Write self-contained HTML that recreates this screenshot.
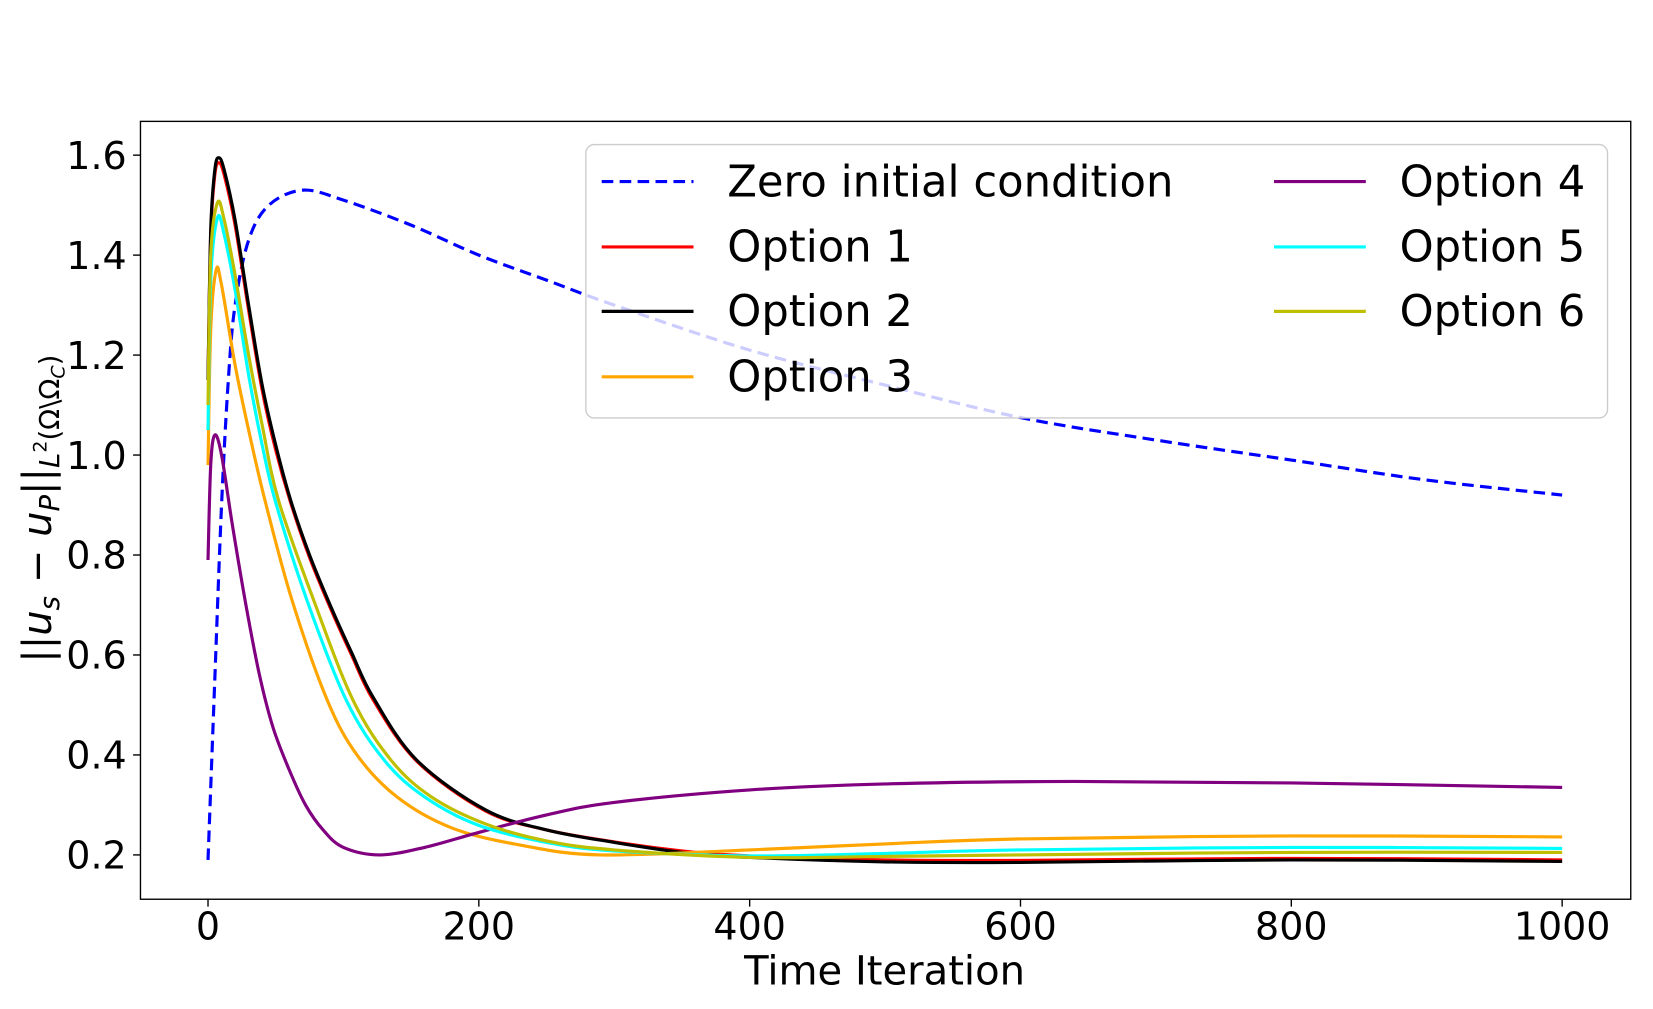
<!DOCTYPE html>
<html><head><meta charset="utf-8"><style>
html,body{margin:0;padding:0;background:#fff;}
svg{display:block;font-family:"DejaVu Sans","Liberation Sans",sans-serif;}
</style></head><body>
<svg id="chart" width="1653" height="1009" viewBox="0 0 1566 956" xmlns="http://www.w3.org/2000/svg">
<rect width="1566" height="956" fill="#fff"/>
<g id="series"></g>
<rect x="133" y="115" width="1412" height="737" fill="none" stroke="#000" stroke-width="1.3"/>
<g id="xticks"></g>
<g id="yticks"></g>
<text x="838" y="933" font-size="38" text-anchor="middle">Time Iteration</text>
<text transform="translate(48,482) rotate(-90)" font-size="38" text-anchor="middle">||<tspan font-style="italic">u</tspan><tspan font-style="italic" font-size="26" dy="8">s</tspan><tspan dy="-8"> − </tspan><tspan font-style="italic">u</tspan><tspan font-style="italic" font-size="26" dy="8">P</tspan><tspan dy="-8">||</tspan><tspan font-size="26" dy="8"><tspan font-style="italic">L</tspan><tspan font-size="18" dy="-12">2</tspan><tspan dy="12">(Ω\Ω</tspan><tspan font-style="italic" font-size="18" dy="5">C</tspan><tspan dy="-5">)</tspan></tspan></text>
<g id="legend">
<rect x="555" y="137" width="968" height="259" rx="8" fill="#fff" fill-opacity="0.8" stroke="#ccc" stroke-width="1.3"/>
</g>
</svg>
<script>
const xTicks=[0,200,400,600,800,1000];
const yTicks=[0.2,0.4,0.6,0.8,1.0,1.2,1.4,1.6];
const seriesNames=["Zero initial condition","Option 1","Option 2","Option 3","Option 4","Option 5","Option 6"];
const seriesColors=["#0000ff","#ff0000","#000000","#ffa500","#800080","#00ffff","#bfbf00"];
const xZero=[0,5,10,15,20,30,45,70,100,150,200,250,300,400,500,600,700,800,900,1000];
const yZero=[0.19,0.55,0.9,1.15,1.3,1.43,1.5,1.53,1.51,1.46,1.4,1.35,1.3,1.21,1.14,1.075,1.03,0.99,0.95,0.92];
const xOpt1=[0,2,5,8,12,20,30,40,50,61,75,91,106,122,154,205,250,300,350,400,500,600,800,1000];
const yOpt1=[1.15,1.44,1.56,1.585,1.56,1.46,1.29,1.13,1.01,0.905,0.795,0.69,0.6,0.51,0.388,0.288,0.25,0.226,0.208,0.198,0.19,0.189,0.193,0.19];
const xOpt2=[0,2,5,8,12,20,30,40,50,61,75,91,106,122,154,205,250,300,350,400,500,600,800,1000];
const yOpt2=[1.15,1.45,1.57,1.595,1.57,1.47,1.3,1.14,1.02,0.91,0.8,0.695,0.605,0.515,0.39,0.29,0.25,0.225,0.205,0.195,0.186,0.185,0.19,0.187];
const xOpt3=[0,2,6,10,20,30,42,62,88,110,140,180,230,290,400,500,600,800,1000];
const yOpt3=[0.98,1.25,1.37,1.34,1.18,1.05,0.91,0.71,0.51,0.4,0.315,0.254,0.22,0.2,0.21,0.222,0.232,0.238,0.236];
const xOpt4=[0,2,5,10,18,28,38,48,60,72,85,100,127,160,200,250,300,400,500,640,800,1000];
const yOpt4=[0.79,0.98,1.04,1.0,0.86,0.7,0.56,0.455,0.37,0.3,0.25,0.215,0.2,0.215,0.245,0.28,0.305,0.33,0.342,0.347,0.344,0.335];
const xOpt5=[0,2,7,12,20,30,40,50,73,102,130,160,200,250,300,400,500,600,800,1000];
const yOpt5=[1.05,1.35,1.475,1.44,1.33,1.16,1.02,0.905,0.71,0.51,0.39,0.316,0.259,0.225,0.208,0.198,0.203,0.21,0.215,0.213];
const xOpt6=[0,2,7,12,20,30,40,52,78,107,135,165,205,250,300,400,500,600,800,1000];
const yOpt6=[1.1,1.4,1.505,1.47,1.36,1.2,1.06,0.91,0.71,0.51,0.39,0.316,0.262,0.228,0.21,0.195,0.197,0.2,0.205,0.205];
const allX=[xZero,xOpt1,xOpt2,xOpt3,xOpt4,xOpt5,xOpt6];
const allY=[yZero,yOpt1,yOpt2,yOpt3,yOpt4,yOpt5,yOpt6];

const NS="http://www.w3.org/2000/svg";
const sx=v=>197+v*(1480-197)/1000;
const sy=v=>810-(v-0.2)*(810-147)/1.4;
function mk(tag,attrs,parent){const e=document.createElementNS(NS,tag);for(const k in attrs)e.setAttribute(k,attrs[k]);parent.appendChild(e);return e;}
function pathFor(xs,ys){
  const p=xs.map((x,i)=>[sx(x),sy(ys[i])]);
  let d="M"+p[0][0]+","+p[0][1];
  for(let i=0;i<p.length-1;i++){
    const p0=p[Math.max(0,i-1)],p1=p[i],p2=p[i+1],p3=p[Math.min(p.length-1,i+2)];
    const c1=[p1[0]+(p2[0]-p0[0])/6,p1[1]+(p2[1]-p0[1])/6];
    const c2=[p2[0]-(p3[0]-p1[0])/6,p2[1]-(p3[1]-p1[1])/6];
    d+=" C"+c1+" "+c2+" "+p2;
  }
  return d;
}
const xg=document.getElementById("xticks");
xTicks.forEach(t=>{
  const l=mk("line",{x1:sx(t),x2:sx(t),y1:852,y2:859,stroke:"#000","stroke-width":1.3},xg);
  
  
  const tx=mk("text",{x:sx(t),y:890,"font-size":36,"text-anchor":"middle"},xg);
  tx.textContent=String(t);
  
  
});
const yg=document.getElementById("yticks");
yTicks.forEach(t=>{
  const l=mk("line",{x1:126,x2:133,y1:sy(t),y2:sy(t),stroke:"#000","stroke-width":1.3},yg);
  
  
  const tx=mk("text",{x:120,y:sy(t)+13,"font-size":36,"text-anchor":"end"},yg);
  tx.textContent=t.toFixed(1);
  
  
});
const sg=document.getElementById("series");
[0,1,2,3,4,5,6].forEach(i=>{
  const a={d:pathFor(allX[i],allY[i]),fill:"none",stroke:seriesColors[i],"stroke-width":3};
  if(i===0)a["stroke-dasharray"]="11,6";
  const p=mk("path",a,sg);
  
  
});
const lg=document.getElementById("legend");
const lpos=[[570,172],[570,234],[570,295],[570,357],[1207,172],[1207,234],[1207,295]];
seriesNames.forEach((n,i)=>{
  const [x,y]=lpos[i];
  const a={x1:x,x2:x+87,y1:y,y2:y,stroke:seriesColors[i],"stroke-width":3};
  if(i===0)a["stroke-dasharray"]="11,6";
  const l=mk("line",a,lg);
  
  
  const t=mk("text",{x:x+119,y:y+14,"font-size":41},lg);
  t.textContent=n;
  
  
});
</script>
</body></html>
